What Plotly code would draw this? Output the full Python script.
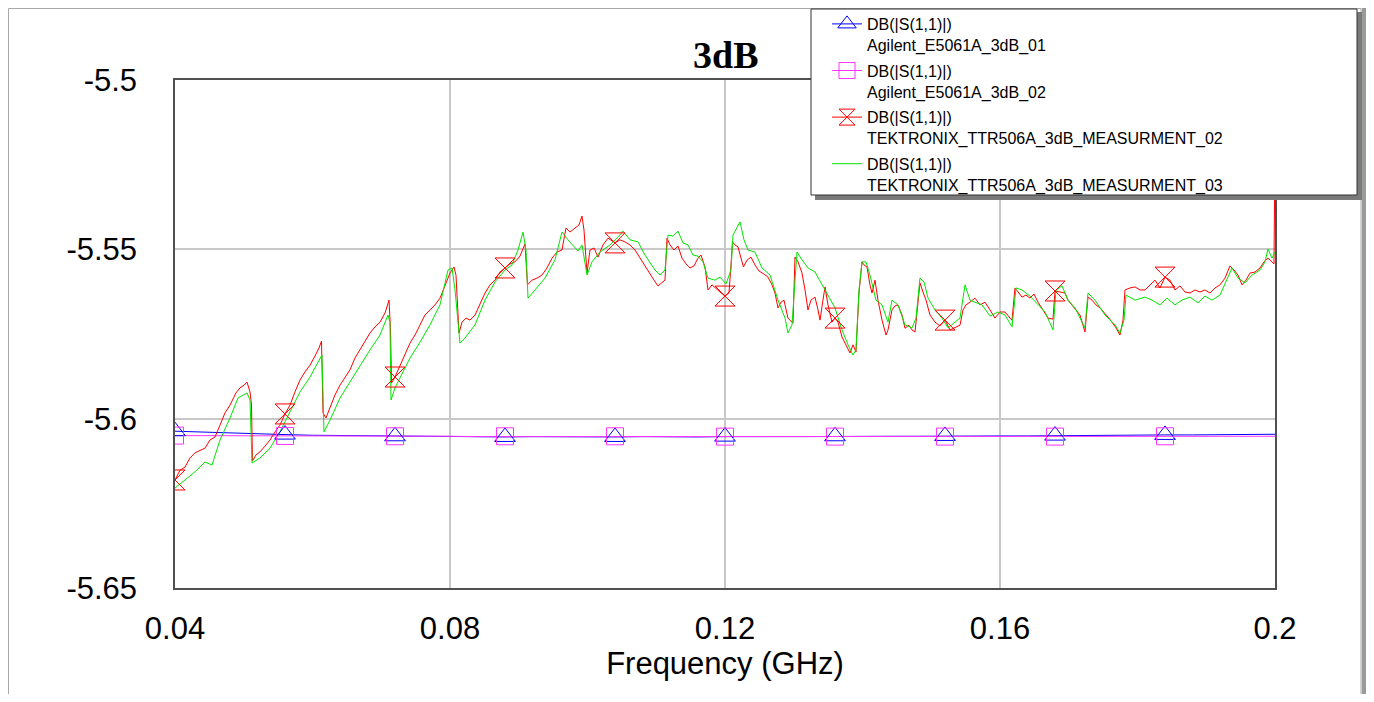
import plotly.graph_objects as go

# ---------------- data ----------------
marker_freq = [0.040, 0.056, 0.072, 0.088, 0.104, 0.120, 0.136, 0.152, 0.168, 0.184]

grid_freq = [0.040, 0.044, 0.048, 0.052, 0.056, 0.060, 0.064, 0.068, 0.072, 0.076,
             0.080, 0.084, 0.088, 0.092, 0.096, 0.100, 0.104, 0.108, 0.112, 0.116,
             0.120, 0.124, 0.128, 0.132, 0.136, 0.140, 0.144, 0.148, 0.152, 0.156,
             0.160, 0.164, 0.168, 0.172, 0.176, 0.180, 0.184, 0.188, 0.192, 0.196, 0.200]

agilent_01 = [-5.6037, -5.6040, -5.6042, -5.6045, -5.6047, -5.6049, -5.6050, -5.6051, -5.6052, -5.6052,
              -5.6053, -5.6053, -5.6054, -5.6053, -5.6054, -5.6054, -5.6054, -5.6053, -5.6054, -5.6054,
              -5.6053, -5.6054, -5.6053, -5.6053, -5.6052, -5.6053, -5.6052, -5.6052, -5.6051, -5.6052,
              -5.6051, -5.6051, -5.6050, -5.6050, -5.6049, -5.6049, -5.6048, -5.6048, -5.6047, -5.6046, -5.6046]

agilent_02 = [-5.6050, -5.6050, -5.6051, -5.6051, -5.6051, -5.6051, -5.6052, -5.6052, -5.6052, -5.6052,
              -5.6052, -5.6053, -5.6052, -5.6053, -5.6053, -5.6053, -5.6052, -5.6053, -5.6053, -5.6053,
              -5.6053, -5.6053, -5.6053, -5.6052, -5.6053, -5.6053, -5.6053, -5.6052, -5.6053, -5.6053,
              -5.6053, -5.6052, -5.6053, -5.6053, -5.6052, -5.6052, -5.6052, -5.6052, -5.6052, -5.6052, -5.6052]

tek02_freq = [0.04000, 0.04073, 0.04145, 0.04218, 0.04291, 0.04364, 0.04436, 0.04509, 0.04582, 0.04655,
              0.04727, 0.04800, 0.04887, 0.04945, 0.05004, 0.05047, 0.05091, 0.05113, 0.05127, 0.05178,
              0.05236, 0.05309, 0.05382, 0.05455, 0.05527, 0.05600, 0.05673, 0.05745, 0.05818, 0.05891,
              0.05964, 0.06036, 0.06095, 0.06131, 0.06153, 0.06196, 0.06255, 0.06327, 0.06400, 0.06473,
              0.06545, 0.06618, 0.06691, 0.06764, 0.06836, 0.06909, 0.06982, 0.07055, 0.07113, 0.07135,
              0.07149, 0.07200, 0.07273, 0.07345, 0.07418, 0.07491, 0.07564, 0.07636, 0.07709, 0.07782,
              0.07855, 0.07927, 0.08000, 0.08058, 0.08087, 0.08131, 0.08175, 0.08233, 0.08291, 0.08364,
              0.08436, 0.08509, 0.08582, 0.08655, 0.08727, 0.08800, 0.08873, 0.08945, 0.09018, 0.09091,
              0.09127, 0.09193, 0.09265, 0.09338, 0.09411, 0.09484, 0.09556, 0.09629, 0.09687, 0.09745,
              0.09818, 0.09876, 0.09920, 0.09949, 0.09993, 0.10036, 0.10095, 0.10153, 0.10225, 0.10298,
              0.10400, 0.10473, 0.10545, 0.10618, 0.10691, 0.10764, 0.10836, 0.10909, 0.10967, 0.11025,
              0.11084, 0.11127, 0.11156, 0.11200, 0.11258, 0.11316, 0.11375, 0.11433, 0.11491, 0.11549,
              0.11607, 0.11651, 0.11709, 0.11753, 0.11811, 0.11869, 0.11927, 0.12000, 0.12058, 0.12087,
              0.12109, 0.12145, 0.12189, 0.12233, 0.12269, 0.12320, 0.12378, 0.12436, 0.12495, 0.12567,
              0.12625, 0.12684, 0.12727, 0.12771, 0.12815, 0.12858, 0.12916, 0.12989, 0.13018, 0.13062,
              0.13120, 0.13164, 0.13207, 0.13251, 0.13309, 0.13353, 0.13382, 0.13425, 0.13455, 0.13498,
              0.13556, 0.13600, 0.13644, 0.13702, 0.13760, 0.13818, 0.13862, 0.13905, 0.13949, 0.13993,
              0.14022, 0.14065, 0.14109, 0.14138, 0.14182, 0.14225, 0.14284, 0.14342, 0.14371, 0.14429,
              0.14473, 0.14516, 0.14575, 0.14618, 0.14676, 0.14720, 0.14764, 0.14807, 0.14836, 0.14880,
              0.14924, 0.14982, 0.15055, 0.15127, 0.15200, 0.15273, 0.15345, 0.15418, 0.15462, 0.15505,
              0.15564, 0.15636, 0.15709, 0.15782, 0.15855, 0.15927, 0.16000, 0.16073, 0.16145, 0.16175,
              0.16218, 0.16262, 0.16320, 0.16378, 0.16436, 0.16495, 0.16553, 0.16625, 0.16698, 0.16771,
              0.16800, 0.16873, 0.16945, 0.16989, 0.17047, 0.17105, 0.17164, 0.17236, 0.17280, 0.17338,
              0.17396, 0.17455, 0.17513, 0.17571, 0.17629, 0.17687, 0.17745, 0.17789, 0.17818, 0.17891,
              0.17964, 0.18036, 0.18109, 0.18182, 0.18255, 0.18327, 0.18400, 0.18473, 0.18545, 0.18618,
              0.18691, 0.18764, 0.18836, 0.18909, 0.18982, 0.19055, 0.19127, 0.19200, 0.19273, 0.19345,
              0.19404, 0.19462, 0.19520, 0.19578, 0.19636, 0.19709, 0.19782, 0.19840, 0.19898, 0.19956,
              0.19985, 0.20000]

tek02_db = [-5.6181, -5.6152, -5.6143, -5.6116, -5.6101, -5.6093, -5.6087, -5.6063, -5.6054, -5.6019,
            -5.5983, -5.5960, -5.5924, -5.5909, -5.5901, -5.5892, -5.5921, -5.5960, -5.6125, -5.6107,
            -5.6098, -5.6081, -5.6063, -5.6039, -5.6019, -5.5986, -5.5960, -5.5921, -5.5886, -5.5862,
            -5.5842, -5.5815, -5.5791, -5.5771, -5.5983, -5.5998, -5.5969, -5.5930, -5.5901, -5.5880,
            -5.5856, -5.5821, -5.5797, -5.5774, -5.5747, -5.5729, -5.5715, -5.5688, -5.5650, -5.5738,
            -5.5895, -5.5877, -5.5842, -5.5812, -5.5777, -5.5753, -5.5723, -5.5694, -5.5679, -5.5664,
            -5.5644, -5.5605, -5.5570, -5.5552, -5.5576, -5.5747, -5.5715, -5.5703, -5.5709, -5.5694,
            -5.5664, -5.5629, -5.5605, -5.5591, -5.5567, -5.5555, -5.5543, -5.5537, -5.5520, -5.5484,
            -5.5605, -5.5591, -5.5585, -5.5576, -5.5555, -5.5526, -5.5508, -5.5502, -5.5437, -5.5449,
            -5.5437, -5.5428, -5.5402, -5.5443, -5.5570, -5.5502, -5.5496, -5.5523, -5.5487, -5.5467,
            -5.5481, -5.5472, -5.5478, -5.5487, -5.5502, -5.5526, -5.5552, -5.5576, -5.5591, -5.5608,
            -5.5599, -5.5591, -5.5467, -5.5487, -5.5502, -5.5490, -5.5526, -5.5543, -5.5555, -5.5549,
            -5.5526, -5.5517, -5.5552, -5.5620, -5.5605, -5.5617, -5.5626, -5.5638, -5.5629, -5.5546,
            -5.5478, -5.5487, -5.5493, -5.5526, -5.5552, -5.5532, -5.5523, -5.5546, -5.5564, -5.5573,
            -5.5582, -5.5605, -5.5629, -5.5673, -5.5656, -5.5650, -5.5703, -5.5718, -5.5523, -5.5537,
            -5.5570, -5.5620, -5.5679, -5.5650, -5.5641, -5.5679, -5.5709, -5.5650, -5.5611, -5.5664,
            -5.5715, -5.5703, -5.5715, -5.5759, -5.5782, -5.5806, -5.5782, -5.5803, -5.5629, -5.5537,
            -5.5546, -5.5552, -5.5605, -5.5629, -5.5591, -5.5650, -5.5709, -5.5753, -5.5738, -5.5679,
            -5.5667, -5.5664, -5.5694, -5.5733, -5.5724, -5.5738, -5.5744, -5.5664, -5.5599, -5.5626,
            -5.5650, -5.5694, -5.5715, -5.5726, -5.5709, -5.5738, -5.5732, -5.5724, -5.5679, -5.5664,
            -5.5656, -5.5644, -5.5664, -5.5656, -5.5679, -5.5703, -5.5685, -5.5685, -5.5703, -5.5709,
            -5.5614, -5.5626, -5.5641, -5.5635, -5.5644, -5.5632, -5.5656, -5.5679, -5.5703, -5.5706,
            -5.5623, -5.5626, -5.5629, -5.5650, -5.5664, -5.5679, -5.5694, -5.5744, -5.5641, -5.5650,
            -5.5664, -5.5673, -5.5685, -5.5700, -5.5715, -5.5732, -5.5753, -5.5709, -5.5620, -5.5614,
            -5.5611, -5.5620, -5.5620, -5.5605, -5.5591, -5.5614, -5.5582, -5.5591, -5.5620, -5.5608,
            -5.5626, -5.5629, -5.5620, -5.5626, -5.5620, -5.5629, -5.5614, -5.5605, -5.5585, -5.5549,
            -5.5561, -5.5576, -5.5605, -5.5591, -5.5570, -5.5567, -5.5555, -5.5537, -5.5526, -5.5537,
            -5.5543, -5.5207]

tek03_freq = [0.04000, 0.04145, 0.04291, 0.04436, 0.04538, 0.04655, 0.04800, 0.04916, 0.05047, 0.05091,
              0.05120, 0.05236, 0.05382, 0.05527, 0.05673, 0.05818, 0.05964, 0.06109, 0.06138, 0.06167,
              0.06255, 0.06400, 0.06545, 0.06691, 0.06836, 0.06982, 0.07098, 0.07127, 0.07142, 0.07200,
              0.07273, 0.07418, 0.07564, 0.07709, 0.07855, 0.07971, 0.08029, 0.08073, 0.08145, 0.08218,
              0.08364, 0.08509, 0.08655, 0.08800, 0.08902, 0.08989, 0.09062, 0.09105, 0.09135, 0.09236,
              0.09382, 0.09527, 0.09629, 0.09716, 0.09862, 0.09920, 0.09993, 0.10065, 0.10182, 0.10327,
              0.10444, 0.10516, 0.10618, 0.10735, 0.10836, 0.10982, 0.11055, 0.11127, 0.11171, 0.11244,
              0.11316, 0.11389, 0.11462, 0.11535, 0.11607, 0.11680, 0.11753, 0.11855, 0.11927, 0.12015,
              0.12087, 0.12116, 0.12218, 0.12276, 0.12335, 0.12436, 0.12538, 0.12655, 0.12771, 0.12873,
              0.12916, 0.12975, 0.13047, 0.13120, 0.13207, 0.13309, 0.13411, 0.13498, 0.13600, 0.13702,
              0.13789, 0.13862, 0.13905, 0.13949, 0.13993, 0.14051, 0.14109, 0.14196, 0.14284, 0.14371,
              0.14429, 0.14516, 0.14618, 0.14720, 0.14778, 0.14836, 0.14895, 0.14953, 0.15055, 0.15156,
              0.15244, 0.15345, 0.15418, 0.15491, 0.15564, 0.15636, 0.15738, 0.15855, 0.15971, 0.16073,
              0.16175, 0.16233, 0.16320, 0.16436, 0.16553, 0.16655, 0.16771, 0.16815, 0.16902, 0.16989,
              0.17091, 0.17236, 0.17280, 0.17382, 0.17527, 0.17673, 0.17745, 0.17804, 0.17833, 0.17964,
              0.18109, 0.18211, 0.18327, 0.18429, 0.18545, 0.18647, 0.18764, 0.18880, 0.18982, 0.19084,
              0.19200, 0.19287, 0.19375, 0.19462, 0.19564, 0.19665, 0.19782, 0.19855, 0.19898, 0.19956,
              0.20000]

tek03_db = [-5.6205, -5.6181, -5.6157, -5.6128, -5.6137, -5.6063, -5.5998, -5.5939, -5.5924, -5.5945,
            -5.6131, -5.6116, -5.6087, -5.6039, -5.5980, -5.5921, -5.5877, -5.5821, -5.5812, -5.6039,
            -5.6004, -5.5939, -5.5892, -5.5842, -5.5797, -5.5753, -5.5694, -5.5715, -5.5945, -5.5909,
            -5.5880, -5.5821, -5.5774, -5.5723, -5.5664, -5.5561, -5.5555, -5.5620, -5.5777, -5.5762,
            -5.5723, -5.5650, -5.5596, -5.5561, -5.5546, -5.5502, -5.5449, -5.5502, -5.5644, -5.5620,
            -5.5585, -5.5531, -5.5449, -5.5472, -5.5505, -5.5487, -5.5576, -5.5537, -5.5508, -5.5487,
            -5.5464, -5.5446, -5.5472, -5.5478, -5.5517, -5.5561, -5.5576, -5.5561, -5.5458, -5.5461,
            -5.5446, -5.5481, -5.5487, -5.5517, -5.5520, -5.5537, -5.5585, -5.5591, -5.5582, -5.5602,
            -5.5561, -5.5458, -5.5419, -5.5472, -5.5502, -5.5508, -5.5555, -5.5576, -5.5650, -5.5703,
            -5.5747, -5.5723, -5.5508, -5.5531, -5.5555, -5.5567, -5.5605, -5.5635, -5.5673, -5.5738,
            -5.5782, -5.5812, -5.5797, -5.5620, -5.5537, -5.5537, -5.5576, -5.5650, -5.5664, -5.5715,
            -5.5650, -5.5664, -5.5723, -5.5732, -5.5703, -5.5585, -5.5596, -5.5644, -5.5679, -5.5703,
            -5.5732, -5.5715, -5.5703, -5.5605, -5.5650, -5.5656, -5.5664, -5.5697, -5.5685, -5.5694,
            -5.5729, -5.5614, -5.5620, -5.5638, -5.5664, -5.5685, -5.5738, -5.5620, -5.5608, -5.5650,
            -5.5673, -5.5732, -5.5629, -5.5650, -5.5694, -5.5723, -5.5747, -5.5709, -5.5635, -5.5650,
            -5.5641, -5.5650, -5.5664, -5.5644, -5.5664, -5.5650, -5.5641, -5.5658, -5.5638, -5.5650,
            -5.5635, -5.5596, -5.5555, -5.5585, -5.5599, -5.5576, -5.5561, -5.5537, -5.5499, -5.5526,
            -5.5508]

x_ticks = [0.04, 0.08, 0.12, 0.16, 0.2]
x_ticktext = ["0.04", "0.08", "0.12", "0.16", "0.2"]
y_ticks = [-5.65, -5.6, -5.55, -5.5]
y_ticktext = ["-5.65", "-5.6", "-5.55", "-5.5"]

names = ["DB(|S(1,1)|)<br>Agilent_E5061A_3dB_01",
         "DB(|S(1,1)|)<br>Agilent_E5061A_3dB_02",
         "DB(|S(1,1)|)<br>TEKTRONIX_TTR506A_3dB_MEASURMENT_02",
         "DB(|S(1,1)|)<br>TEKTRONIX_TTR506A_3dB_MEASURMENT_03"]

# ---------------- figure ----------------
BLUE, MAGENTA, RED, GREEN = "#0000ff", "#ff33ff", "#ff0000", "#00e600"


def pick(fx, fy):
    xs, ys = [], []
    for m in marker_freq:
        for a, b in zip(fx, fy):
            if abs(a - m) < 1e-6:
                xs.append(a)
                ys.append(b)
                break
    return xs, ys


fig = go.Figure()

fig.add_trace(go.Scatter(x=grid_freq, y=agilent_01, mode="lines", line=dict(color=BLUE, width=1), showlegend=False))
fig.add_trace(go.Scatter(x=grid_freq, y=agilent_02, mode="lines", line=dict(color=MAGENTA, width=1), showlegend=False))
fig.add_trace(go.Scatter(x=tek02_freq, y=tek02_db, mode="lines", line=dict(color=RED, width=1), showlegend=False))
fig.add_trace(go.Scatter(x=tek03_freq, y=tek03_db, mode="lines", line=dict(color=GREEN, width=1), showlegend=False))

mx, my = pick(grid_freq, agilent_01)
fig.add_trace(go.Scatter(x=mx, y=my, mode="markers", showlegend=False,
                         marker=dict(symbol="triangle-up-open", size=18, color=BLUE, line=dict(width=1))))
mx, my = pick(grid_freq, agilent_02)
fig.add_trace(go.Scatter(x=mx, y=my, mode="markers", showlegend=False,
                         marker=dict(symbol="square-open", size=17, color=MAGENTA, line=dict(width=1))))
mx, my = pick(tek02_freq, tek02_db)
fig.add_trace(go.Scatter(x=mx, y=my, mode="markers", showlegend=False,
                         marker=dict(symbol="hourglass-open", size=20, color=RED, line=dict(width=1))))

leg_specs = [(BLUE, "triangle-up-open", 16), (MAGENTA, "square-open", 16),
             (RED, "hourglass-open", 16), (GREEN, None, 0)]
for i, (name, (col, sym, sz)) in enumerate(zip(names, leg_specs)):
    if sym:
        fig.add_trace(go.Scatter(x=[None], y=[None], mode="lines+markers", name=name,
                                 legendgroup=f"g{i}",
                                 line=dict(color=col, width=1),
                                 marker=dict(symbol=sym, size=sz, color=col, line=dict(width=1))))
    else:
        fig.add_trace(go.Scatter(x=[None], y=[None], mode="lines", name=name,
                                 legendgroup=f"g{i}",
                                 line=dict(color=col, width=1)))

# page body has an 8px margin: figure sized so the page fits the window
OFF = 8
W, H = 1374 - 2 * OFF, 702 - 2 * OFF
PL, PR, PT, PB = 175, 1275, 80, 588          # plot area in window pixels
L, T = PL - OFF, PT - OFF
R, B = W - (PR - OFF), H - (PB - OFF)
pw, ph = PR - PL, PB - PT


def px(x):
    return (x - PL) / pw


def py(y):
    return (PB - y) / ph


shapes = [
    dict(type="rect", xref="paper", yref="paper", x0=px(8.5), x1=px(1361), y0=py(720), y1=py(8.5),
         fillcolor="white", line=dict(color="#a8a8a8", width=1), layer="below"),
    dict(type="rect", xref="paper", yref="paper", x0=px(1362), x1=px(1367), y0=py(720), y1=py(8),
         fillcolor="#9a9a9a", line=dict(width=0), layer="below"),
    dict(type="rect", xref="paper", yref="paper", x0=px(815), x1=px(1362), y0=py(200), y1=py(12),
         fillcolor="#7a7a7a", line=dict(width=0), layer="above"),
    dict(type="rect", xref="paper", yref="paper", x0=px(811), x1=px(1357), y0=py(195), y1=py(9),
         fillcolor="white", line=dict(color="#303030", width=1), layer="above"),
]

axis_common = dict(showgrid=True, gridcolor="#c8c8c8", gridwidth=1.5, zeroline=False,
                   showline=True, linecolor="#505050", linewidth=1.5, mirror=True,
                   ticks="", automargin=False,
                   tickfont=dict(family="Liberation Sans", size=31, color="black"))

fig.update_layout(
    width=W, height=H, autosize=False,
    margin=dict(l=L, r=R, t=T, b=B, autoexpand=False),
    paper_bgcolor="#f0f0f0", plot_bgcolor="white",
    xaxis=dict(range=[0.04, 0.2], tickvals=x_ticks, ticktext=x_ticktext, ticklabelstandoff=12,
               title=dict(text="Frequency (GHz)", font=dict(family="Liberation Sans", size=31, color="black"),
                          standoff=4),
               **axis_common),
    yaxis=dict(range=[-5.65, -5.5], tickvals=y_ticks, ticktext=y_ticktext, ticklabelstandoff=30,
               **axis_common),
    shapes=shapes,
    annotations=[dict(text="<b>3dB</b>", xref="paper", yref="paper", x=px(725), y=py(55),
                      xanchor="center", yanchor="middle", showarrow=False,
                      font=dict(family="Liberation Serif", size=38, color="black"))],
    legend=dict(x=px(827), y=py(7), xanchor="left", yanchor="top", bgcolor="rgba(0,0,0,0)",
                borderwidth=0, font=dict(family="Liberation Sans", size=16, color="black"),
                valign="top", tracegroupgap=2),
    showlegend=True,
)

fig.write_html("out.html")
